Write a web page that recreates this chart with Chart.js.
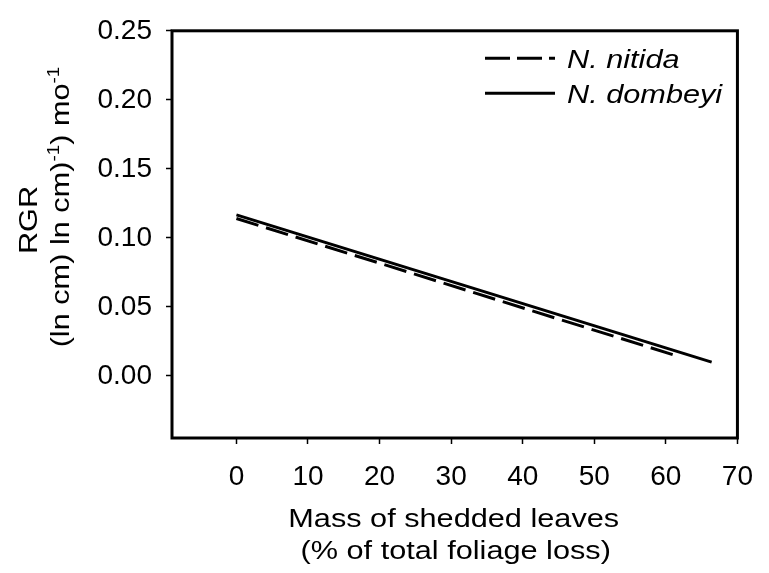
<!DOCTYPE html>
<html>
<head>
<meta charset="utf-8">
<script src="https://cdn.jsdelivr.net/npm/chart.js@4.4.1/dist/chart.umd.min.js"></script>
<style>
  html, body { margin: 0; padding: 0; background: #fff; }
  #grafico { display: block; }
</style>
</head>
<body>
<canvas id="grafico" width="769" height="573"></canvas>
<script>
// valores
const nitidaX = [0, 61.2];
const nitidaY = [0.1140, 0.0150];
const dombeyiX = [0, 66.4];
const dombeyiY = [0.1166, 0.0100];

const xTicks = [0, 10, 20, 30, 40, 50, 60, 70];
const yTicks = [0, 0.05, 0.10, 0.15, 0.20, 0.25];
const xRange = [-9, 70];
const yRange = [-0.045, 0.25];

const legendLabels = ['N. nitida', 'N. dombeyi'];
const xTitle = ['Mass of shedded leaves', '(% of total foliage loss)'];
const yTitle = 'RGR';
// segunda linha do titulo y: [texto, sobrescrito]
const yTitle2 = [['(ln cm) ln cm)', false], ['-1', true], [') mo', false], ['-1', true]];

const FONTE = '"Liberation Sans", Arial, sans-serif';
const ESTICA = 1.18; // o texto da figura original vem esticado na horizontal

function pares(xs, ys) {
    return xs.map((x, i) => ({ x: x, y: ys[i] }));
}

function escreve(ctx, txt, x, y, size, italic, align) {
    ctx.save();
    ctx.font = (italic ? 'italic ' : '') + size + 'px ' + FONTE;
    ctx.translate(x, y);
    ctx.scale(ESTICA, 1);
    ctx.textAlign = align || 'left';
    ctx.textBaseline = 'alphabetic';
    ctx.fillStyle = '#000';
    ctx.fillText(txt, 0, 0);
    ctx.restore();
}

// moldura, legenda e titulos
const molduraPlugin = {
    id: 'moldura',
    afterDraw(chart) {
        const ctx = chart.ctx;
        const a = chart.chartArea;

        ctx.save();
        ctx.strokeStyle = '#000';
        ctx.lineCap = 'butt';
        ctx.lineWidth = 3;
        ctx.setLineDash([]);
        ctx.strokeRect(a.left, a.top, a.right - a.left, a.bottom - a.top);

        // legenda
        const ds = chart.data.datasets;
        [58.3, 93.3].forEach((ly, i) => {
            ctx.beginPath();
            ctx.setLineDash(ds[i].borderDash ? [25, 7] : []);
            ctx.moveTo(485, ly);
            ctx.lineTo(555, ly);
            ctx.stroke();
            escreve(ctx, ds[i].label, 567, ly + 9.3, 26, true, 'left');
        });
        ctx.setLineDash([]);

        // titulo x
        const cx = (a.left + a.right) / 2 - 1;
        escreve(ctx, xTitle[0], cx, 527, 26, false, 'center');
        escreve(ctx, xTitle[1], cx + 2, 559, 26, false, 'center');

        // titulo y (rodado)
        ctx.save();
        ctx.translate(37, 220);
        ctx.rotate(-Math.PI / 2);
        ctx.scale(ESTICA, 1);
        ctx.font = '26px ' + FONTE;
        ctx.textAlign = 'center';
        ctx.fillStyle = '#000';
        ctx.fillText(yTitle, 0, 0);
        ctx.restore();

        ctx.save();
        ctx.translate(69, 207);
        ctx.rotate(-Math.PI / 2);
        ctx.scale(ESTICA, 1);
        ctx.fillStyle = '#000';
        ctx.textAlign = 'left';
        let total = 0;
        yTitle2.forEach(([t, sup]) => {
            ctx.font = (sup ? 16 : 26) + 'px ' + FONTE;
            total += ctx.measureText(t).width;
        });
        let px = -total / 2;
        yTitle2.forEach(([t, sup]) => {
            ctx.font = (sup ? 16 : 26) + 'px ' + FONTE;
            ctx.fillText(t, px, sup ? -10 : 0);
            px += ctx.measureText(t).width;
        });
        ctx.restore();

        ctx.restore();
    }
};

const eixoGrid = {
    display: true,
    drawOnChartArea: false,
    drawTicks: true,
    tickLength: 6,
    tickWidth: 1.5,
    tickColor: '#000'
};

window.onload = () => {
    const ctx = document.getElementById('grafico').getContext('2d');
    new Chart(ctx, {
        type: 'line',
        data: {
            datasets: [
                {
                    label: legendLabels[0],
                    data: pares(nitidaX, nitidaY),
                    borderColor: '#000',
                    borderWidth: 3,
                    borderDash: [23, 8],
                    borderCapStyle: 'butt',
                    pointRadius: 0,
                    fill: false,
                    tension: 0
                },
                {
                    label: legendLabels[1],
                    data: pares(dombeyiX, dombeyiY),
                    borderColor: '#000',
                    borderWidth: 3,
                    borderCapStyle: 'butt',
                    pointRadius: 0,
                    fill: false,
                    tension: 0
                }
            ]
        },
        options: {
            responsive: false,
            animation: false,
            events: [],
            layout: { padding: { top: 24, right: 22, left: 0, bottom: 0 } },
            plugins: {
                legend: { display: false },
                tooltip: { enabled: false }
            },
            scales: {
                x: {
                    type: 'linear',
                    min: xRange[0],
                    max: xRange[1],
                    afterBuildTicks: s => { s.ticks = xTicks.map(v => ({ value: v })); },
                    afterFit: s => { s.height = 135; },
                    grid: eixoGrid,
                    border: { display: false },
                    ticks: {
                        color: '#000',
                        font: { family: FONTE, size: 28 },
                        padding: 16,
                        maxRotation: 0,
                        autoSkip: false,
                        callback: v => String(v)
                    }
                },
                y: {
                    type: 'linear',
                    min: yRange[0],
                    max: yRange[1],
                    afterBuildTicks: s => { s.ticks = yTicks.map(v => ({ value: v })); },
                    afterFit: s => { s.width = 172; },
                    grid: eixoGrid,
                    border: { display: false },
                    ticks: {
                        color: '#000',
                        font: { family: FONTE, size: 28 },
                        padding: 14,
                        autoSkip: false,
                        callback: v => Number(v).toFixed(2)
                    }
                }
            }
        },
        plugins: [molduraPlugin]
    });
};
</script>
</body>
</html>
